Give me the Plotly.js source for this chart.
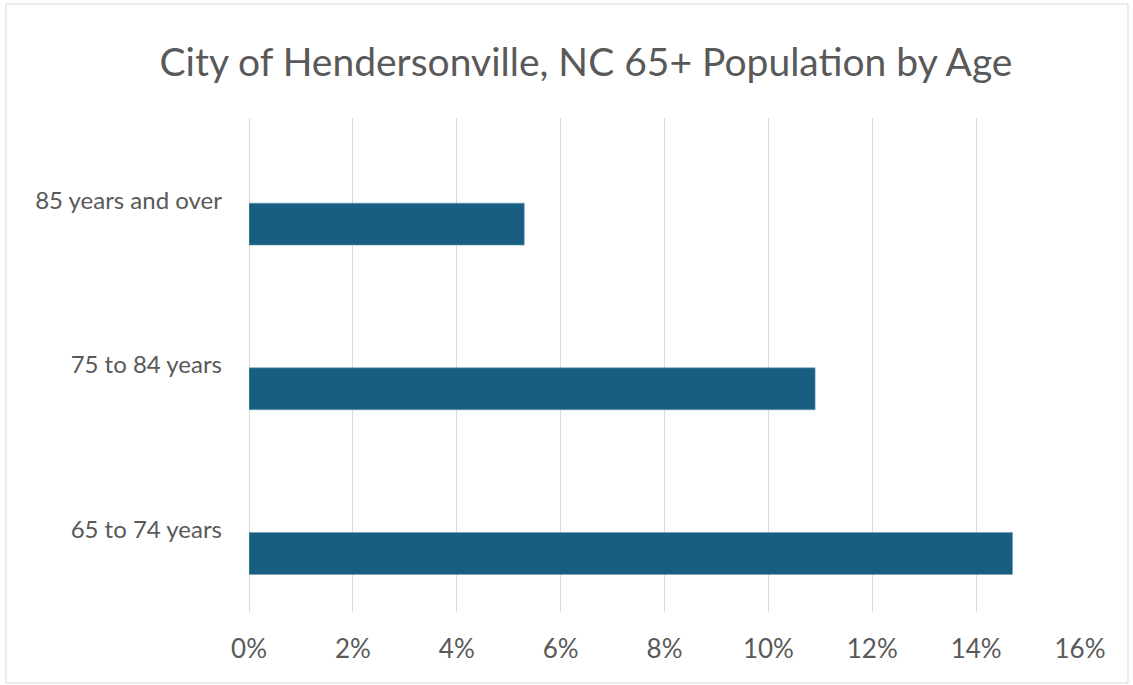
<!DOCTYPE html>
<html>
<head>
<meta charset="utf-8">
<script src="https://cdn.plot.ly/plotly-3.0.1.min.js"></script>
<style>
html,body{margin:0;padding:0;background:#fff;}
#chart{width:1133px;height:685px;}
</style>
</head>
<body>
<div id="chart"></div>
<script>
const categories = ["65 to 74 years", "75 to 84 years", "85 years and over"];
const shares = [0.147, 0.109, 0.053];
const tickVals = [0, 0.02, 0.04, 0.06, 0.08, 0.10, 0.12, 0.14, 0.16];
const tickText = ["0%", "2%", "4%", "6%", "8%", "10%", "12%", "14%", "16%"];
const titleText = "City of Hendersonville, NC 65+ Population by Age";

const font = "Lato, 'Open Sans', sans-serif";
const textColor = "#595959";

const trace = {
  type: "bar",
  orientation: "h",
  y: categories,
  x: shares,
  width: 0.255,
  offset: -0.272,
  marker: {color: "#175e80", line: {color: "#6f9fb8", width: 0.6}},
  hoverinfo: "x+y"
};

const W = 1133, H = 685, L = 249, R = 53, T = 118, B = 73;
const pw = W - L - R, ph = H - T - B;

const layout = {
  width: W, height: H,
  margin: {l: L, r: R, t: T, b: B},
  paper_bgcolor: "#fff", plot_bgcolor: "#fff",
  showlegend: false,
  title: {
    text: titleText,
    font: {family: font, size: 39, color: textColor},
    x: 586 / W, xanchor: "center", xref: "container",
    y: 1 - 62 / H, yanchor: "middle", yref: "container"
  },
  xaxis: {
    range: [0, 0.16],
    tickvals: tickVals, ticktext: tickText,
    showgrid: true, gridcolor: "#d9d9d9", gridwidth: 1,
    zeroline: true, zerolinecolor: "#d9d9d9", zerolinewidth: 1,
    showline: false, ticks: "",
    tickfont: {family: font, size: 26, color: textColor},
    ticklabelstandoff: 19,
    fixedrange: true
  },
  yaxis: {
    type: "category",
    categoryorder: "array", categoryarray: categories,
    range: [-0.5, 2.5],
    showgrid: false, zeroline: false, showline: false, ticks: "",
    tickfont: {family: font, size: 24, color: textColor},
    ticklabelstandoff: 26,
    fixedrange: true
  },
  shapes: [{
    type: "rect", xref: "paper", yref: "paper",
    x0: (6 - L) / pw, x1: (1128 - L) / pw,
    y0: -(683 - (H - B)) / ph, y1: ((H - B) - 4) / ph,
    line: {color: "#d9d9d9", width: 1}, fillcolor: "rgba(0,0,0,0)", layer: "below"
  }]
};

Plotly.newPlot("chart", [trace], layout, {displayModeBar: false, staticPlot: true});
</script>
</body>
</html>
